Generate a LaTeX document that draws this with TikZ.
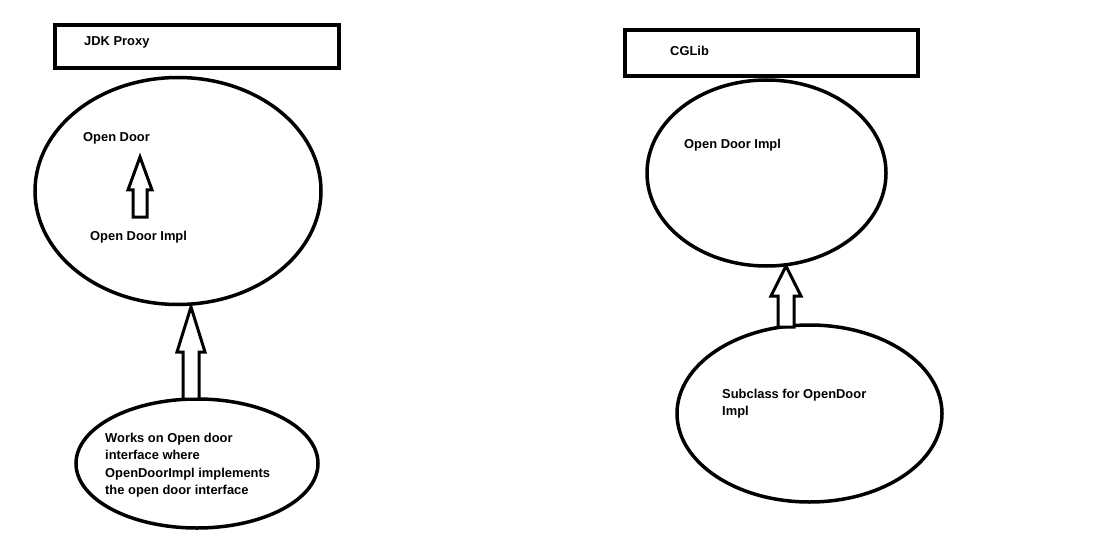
\documentclass[tikz,border=0pt]{standalone}
\usepackage{fontspec}
\setmainfont{Liberation Sans}
\usetikzlibrary{shapes.geometric,calc}
\tikzset{
  frame/.style={draw, line width=4pt, rectangle, inner sep=0pt},
  oval/.style={draw, line width=3.5pt, ellipse, inner sep=0pt},
  lbl/.style={anchor=base west, inner sep=0pt, font=\fontsize{12.9}{17.5}\selectfont\bfseries, align=left},
  blk/.style={draw, line width=3pt, line join=miter, fill=white}
}
% hollow block arrow from base (#1) to tip (#2): shaft half width #3, head half width #4, head length #5
\newcommand{\blockarrowup}[5]{%
  \draw[blk] ($(#2)$) -- ($(#2)+(#4,#5)$) -- ($(#2)+(#3,#5)$) -- ($(#1)+(#3,0)$)
    -- ($(#1)+(-#3,0)$) -- ($(#2)+(-#3,#5)$) -- ($(#2)+(-#4,#5)$) -- cycle;}
\begin{document}
\begin{tikzpicture}[x=1pt,y=-1pt]
\useasboundingbox (0,0) rectangle (1110,540);
\fill[white] (0,0) rectangle (1110,540);
% left side
\node[frame, minimum width=284pt, minimum height=43pt] (jdkbox) at (197,46.5) {};
\node[lbl] (jdk) at (84,46) {JDK Proxy};
\node[oval, minimum width=286pt, minimum height=227pt] (jdkoval) at (178,191) {};
\node[lbl] (od) at (83,142) {Open Door};
\node[lbl] (odi) at (90,240) {Open Door Impl};
\node[oval, minimum width=242pt, minimum height=129pt] (works) at (197,463.5) {};
% base anchor of a multi-line node is the last line's baseline
\node[lbl] (workstxt) at (105,494.5) {Works on Open door\\interface where\\OpenDoorImpl implements\\the open door interface};
\coordinate (a1base) at (140,217);
\coordinate (a1tip) at (140,157);
\blockarrowup{a1base}{a1tip}{7}{12}{33}
\coordinate (a2base) at (191,399);
\coordinate (a2tip) at (191,307);
\blockarrowup{a2base}{a2tip}{8}{14}{45}
% right side
\node[frame, minimum width=293pt, minimum height=46pt] (cgbox) at (771.5,53) {};
\node[lbl] (cg) at (670,56) {CGLib};
\node[oval, minimum width=239pt, minimum height=186pt] (cgoval) at (766.5,173) {};
\node[lbl] (odi2) at (684,149) {Open Door Impl};
\node[oval, minimum width=265pt, minimum height=177pt] (sub) at (809.5,413.5) {};
\node[lbl] (subtxt) at (722,415.5) {Subclass for OpenDoor\\Impl};
\coordinate (a3base) at (786,327);
\coordinate (a3tip) at (786,266);
\blockarrowup{a3base}{a3tip}{8}{15}{30}
\end{tikzpicture}
\end{document}
